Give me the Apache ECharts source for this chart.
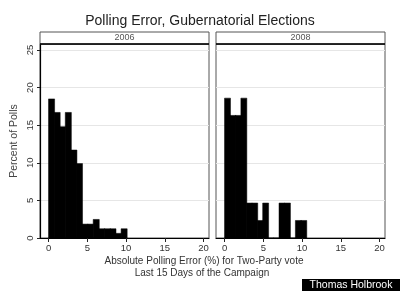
<!DOCTYPE html>
<html>
<head>
<meta charset="utf-8">
<script src="https://cdn.jsdelivr.net/npm/echarts@6/dist/echarts.min.js"></script>
<style>html,body{margin:0;padding:0;background:#fff;}#c{width:400px;height:291px;}</style>
</head>
<body>
<div id="c"></div>
<script>
const panels = ['2006', '2008'];
const binWidth2006 = 0.72;
const binWidth2008 = 0.703;
const pct2006 = [18.5, 16.7, 14.8, 16.7, 11.7, 9.9, 1.85, 1.85, 2.47, 1.23, 1.23, 1.23, 0.62, 1.23];
const pct2008 = [18.6, 16.3, 16.3, 18.6, 4.65, 4.65, 2.33, 4.65, 0, 0, 4.65, 4.65, 0, 2.33, 2.33];
const xTicks = [0, 5, 10, 15, 20];
const yTicks = [0, 5, 10, 15, 20, 25];

function bins(pct, w) {
  return pct.map((v, i) => [i * w, (i + 1) * w, v]);
}

const FONT = '"Liberation Sans", Arial, sans-serif';

function renderItem(params, api) {
  const p0 = api.coord([api.value(0), api.value(2)]);
  const p1 = api.coord([api.value(1), 0]);
  return {
    type: 'rect',
    shape: { x: p0[0], y: p0[1], width: p1[0] - p0[0] + 0.5, height: p1[1] - p0[1] },
    style: { fill: '#000', stroke: '#000', lineWidth: 0.5 }
  };
}

const chart = echarts.init(document.getElementById('c'), null, { renderer: 'canvas' });

const grids = [
  { left: 40, right: 191, top: 44, bottom: 53 },
  { left: 216, right: 15, top: 44, bottom: 53 }
];

function xAxis(i) {
  return {
    type: 'value', gridIndex: i, min: -1.1, max: 20.7,
    axisLine: { show: true, onZero: false, lineStyle: { color: '#000', width: 1.2 } },
    axisTick: { show: true, length: 4, customValues: xTicks, lineStyle: { color: '#222' } },
    axisLabel: { customValues: xTicks, color: '#333', fontSize: 9.5, fontFamily: FONT, margin: 5 },
    splitLine: { show: false }
  };
}
function yAxis(i) {
  return {
    type: 'value', gridIndex: i, min: 0, max: 25.8, interval: 5,
    name: i === 0 ? 'Percent of Polls' : '',
    nameLocation: 'middle', nameRotate: 90, nameGap: 20,
    nameTextStyle: { color: '#444', fontSize: 10.5, fontFamily: FONT },
    axisLine: { show: i === 0, onZero: false, lineStyle: { color: '#000', width: 1.2 } },
    axisTick: { show: i === 0, length: 3, customValues: yTicks, lineStyle: { color: '#222' } },
    axisLabel: { show: i === 0, customValues: yTicks, rotate: 90, color: '#333', fontSize: 9.5, fontFamily: FONT, margin: 5 },
    splitLine: { show: true, lineStyle: { color: '#e6e6e6', width: 1 } }
  };
}

const graphics = [];
grids.forEach((g, i) => {
  const x0 = g.left, x1 = 400 - g.right;
  graphics.push({ type: 'rect', shape: { x: x0, y: 32, width: x1 - x0, height: 12 }, style: { fill: '#fff', stroke: '#555', lineWidth: 1 }, z: 10 });
  graphics.push({ type: 'line', shape: { x1: x0, y1: 44, x2: x1, y2: 44 }, style: { stroke: '#000', lineWidth: 1.5 }, z: 11 });
  graphics.push({ type: 'text', x: (x0 + x1) / 2, y: 38, style: { text: panels[i], fill: '#555', fontSize: 9, fontFamily: FONT, align: 'center', verticalAlign: 'middle' }, z: 12 });
});
graphics.push({ type: 'text', x: 204, y: 261.5, style: { text: 'Absolute Polling Error (%) for Two-Party vote', fill: '#333', fontSize: 10, fontFamily: FONT, align: 'center', verticalAlign: 'middle' } });
graphics.push({ type: 'text', x: 202, y: 273.5, style: { text: 'Last 15 Days of the Campaign', fill: '#333', fontSize: 10, fontFamily: FONT, align: 'center', verticalAlign: 'middle' } });
graphics.push({ type: 'rect', shape: { x: 302, y: 279, width: 98, height: 12 }, style: { fill: '#000' } });
graphics.push({ type: 'text', x: 351, y: 285.5, style: { text: 'Thomas Holbrook', fill: '#fff', fontSize: 10.5, fontFamily: FONT, align: 'center', verticalAlign: 'middle' } });

chart.setOption({
  backgroundColor: '#fff',
  animation: false,
  title: {
    text: 'Polling Error, Gubernatorial Elections',
    left: 'center', top: 9,
    textStyle: { color: '#222', fontSize: 14, fontWeight: 'normal', fontFamily: FONT }
  },
  grid: grids.map(g => Object.assign({ show: true, borderColor: '#555', borderWidth: 1, backgroundColor: '#fff' }, g)),
  xAxis: [xAxis(0), xAxis(1)],
  yAxis: [yAxis(0), yAxis(1)],
  graphic: graphics,
  series: [
    { type: 'custom', xAxisIndex: 0, yAxisIndex: 0, renderItem, encode: { x: [0, 1], y: 2 }, data: bins(pct2006, binWidth2006), clip: true },
    { type: 'custom', xAxisIndex: 1, yAxisIndex: 1, renderItem, encode: { x: [0, 1], y: 2 }, data: bins(pct2008, binWidth2008), clip: true }
  ]
});
</script>
</body>
</html>
